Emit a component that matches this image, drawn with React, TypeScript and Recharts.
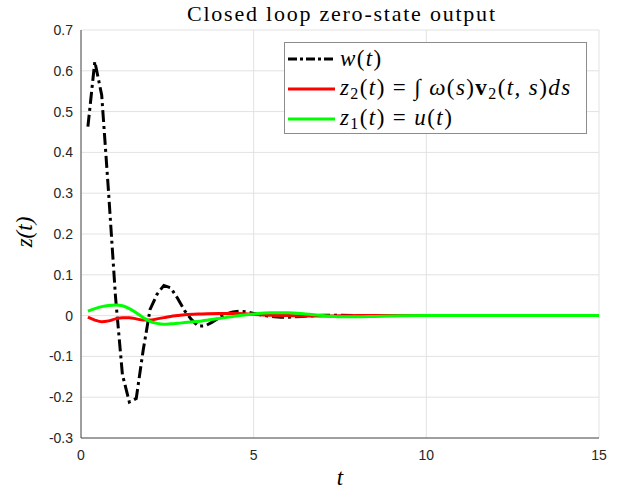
import React from 'react';
import { LineChart, Line, XAxis, YAxis, CartesianGrid } from 'recharts';

const wTimes = [0.2, 0.4, 0.6, 0.8, 1.0, 1.2, 1.4, 1.6, 1.8, 2.0, 2.2, 2.4, 2.6, 2.8, 3.0, 3.2, 3.4, 3.6, 3.8, 4.0, 4.2, 4.4, 4.6, 4.8, 5.0, 5.2, 5.4, 5.6, 5.8, 6.0, 6.2, 6.4, 6.6, 6.8, 7.0, 7.2, 8, 9, 10, 11, 12, 13, 14, 15];
const wValues = [0.463, 0.623, 0.54, 0.3, 0.045, -0.145, -0.212, -0.203, -0.085, 0.015, 0.052, 0.074, 0.068, 0.042, 0.012, -0.01, -0.026, -0.025, -0.016, -0.005, 0.004, 0.009, 0.011, 0.009, 0.005, 0.002, -0.001, -0.003, -0.004, -0.004, -0.003, -0.002, -0.001, 0, 0.001, 0.001, 0, 0, 0, 0, 0, 0, 0, 0];

const zTimes = [0.2, 0.4, 0.6, 0.8, 1.0, 1.2, 1.4, 1.6, 1.8, 2.0, 2.2, 2.4, 2.6, 2.8, 3.0, 3.5, 4.0, 4.5, 5.0, 5.5, 6.0, 6.5, 7.0, 7.5, 8.0, 8.5, 9, 10, 11, 12, 13, 14, 15];
const z2Values = [-0.004, -0.011, -0.015, -0.013, -0.008, -0.005, -0.005, -0.008, -0.011, -0.011, -0.008, -0.005, -0.002, 0, 0.002, 0.004, 0.005, 0.005, 0.003, 0.001, 0, -0.001, -0.001, -0.0005, 0, 0, 0, 0, 0, 0, 0, 0, 0];
const z1Values = [0.011, 0.017, 0.022, 0.025, 0.026, 0.024, 0.017, 0.007, -0.005, -0.014, -0.019, -0.021, -0.02, -0.019, -0.017, -0.013, -0.007, -0.001, 0.004, 0.007, 0.007, 0.004, 0, -0.003, -0.003, -0.002, -0.001, 0, 0, 0, 0, 0, 0];

const xTicks = [0, 5, 10, 15];
const yTicks = [-0.3, -0.2, -0.1, 0, 0.1, 0.2, 0.3, 0.4, 0.5, 0.6, 0.7];

const wData = wTimes.map((t, i) => ({ t, v: wValues[i] }));
const z2Data = zTimes.map((t, i) => ({ t, v: z2Values[i] }));
const z1Data = zTimes.map((t, i) => ({ t, v: z1Values[i] }));

const axisColor = '#4d4d4d';
const tickStyle = { fontFamily: 'Liberation Sans, Arial, sans-serif', fontSize: 14, fill: '#262626' };
const serif = '"Liberation Serif", "Times New Roman", serif';

const fmtY = (v: number) => (Math.abs(v) < 1e-9 ? '0' : v.toFixed(1));

function LegendBox() {
  const row: React.CSSProperties = { display: 'flex', alignItems: 'center', height: 30 };
  const txt: React.CSSProperties = { fontFamily: serif, fontSize: 23, letterSpacing: 1.4, color: '#000', whiteSpace: 'nowrap', marginLeft: 5 };
  const it: React.CSSProperties = { fontStyle: 'italic' };
  const sub: React.CSSProperties = { fontSize: 16, verticalAlign: '-4px', fontStyle: 'normal' };
  return (
    <div style={{ position: 'absolute', left: 284, top: 42, width: 303, height: 92, border: '1px solid #8c8c8c', background: '#fff', boxSizing: 'border-box', padding: '1px 0 0 3px' }}>
      <div style={row}>
        <svg width={47} height={6}><line x1={0} y1={3} x2={47} y2={3} stroke="#000" strokeWidth={3} strokeDasharray="9 3 3 3" /></svg>
        <span style={txt}><span style={it}>w</span>(<span style={it}>t</span>)</span>
      </div>
      <div style={row}>
        <svg width={47} height={6}><line x1={0} y1={3} x2={47} y2={3} stroke="#ff0000" strokeWidth={3} /></svg>
        <span style={txt}><span style={it}>z</span><span style={sub}>2</span>(<span style={it}>t</span>) = ∫ <span style={it}>ω</span>(<span style={it}>s</span>)<b>v</b><span style={sub}>2</span>(<span style={it}>t, s</span>)<span style={it}>ds</span></span>
      </div>
      <div style={row}>
        <svg width={47} height={6}><line x1={0} y1={3} x2={47} y2={3} stroke="#00ff00" strokeWidth={3} /></svg>
        <span style={txt}><span style={it}>z</span><span style={sub}>1</span>(<span style={it}>t</span>) = <span style={it}>u</span>(<span style={it}>t</span>)</span>
      </div>
    </div>
  );
}

export default function App() {
  return (
    <div style={{ position: 'absolute', left: 0, top: 0, width: 625, height: 493, background: '#fff' }}>
      <LineChart width={625} height={493} margin={{ top: 30, right: 26, left: 0, bottom: 0 }}>
        <CartesianGrid stroke="#e2e2e2" strokeWidth={1} />
        <XAxis dataKey="t" type="number" domain={[0, 15]} ticks={xTicks} allowDataOverflow height={55}
          tickLine={false} tickSize={6} tickMargin={6} axisLine={{ stroke: axisColor }} tick={tickStyle} />
        <XAxis xAxisId="top" dataKey="t" type="number" domain={[0, 15]} ticks={xTicks} allowDataOverflow orientation="top" mirror height={0}
          tick={false} tickSize={5} tickLine={{ stroke: axisColor }} axisLine={{ stroke: axisColor }} />
        <YAxis type="number" domain={[-0.3, 0.7]} ticks={yTicks} allowDataOverflow width={81}
          tickLine={false} tickSize={6} tickMargin={2} axisLine={{ stroke: axisColor }} tick={tickStyle} tickFormatter={fmtY} />
        <YAxis yAxisId="right" type="number" domain={[-0.3, 0.7]} ticks={yTicks} allowDataOverflow orientation="right" mirror width={0}
          tick={false} tickSize={5} tickLine={{ stroke: axisColor }} axisLine={{ stroke: axisColor }} />
        <Line data={wData} dataKey="v" type="linear" stroke="#000" strokeWidth={3} strokeDasharray="12 4 3 4" dot={false} isAnimationActive={false} />
        <Line data={z2Data} dataKey="v" type="monotone" stroke="#ff0000" strokeWidth={3} dot={false} isAnimationActive={false} />
        <Line data={z1Data} dataKey="v" type="monotone" stroke="#00ff00" strokeWidth={3} dot={false} isAnimationActive={false} />
        <text x={341} y={21} textAnchor="middle" fontFamily={serif} fontSize={22} textLength={308} lengthAdjust="spacing" fill="#000">Closed loop zero-state output</text>
        <text x={32} y={232} textAnchor="middle" fontFamily={serif} fontSize={23} fontStyle="italic" fill="#000" transform="rotate(-90 32 232)">z(t)</text>
        <text x={340} y={485} textAnchor="middle" fontFamily={serif} fontSize={23} fontStyle="italic" fill="#000">t</text>
      </LineChart>
      <LegendBox />
    </div>
  );
}
